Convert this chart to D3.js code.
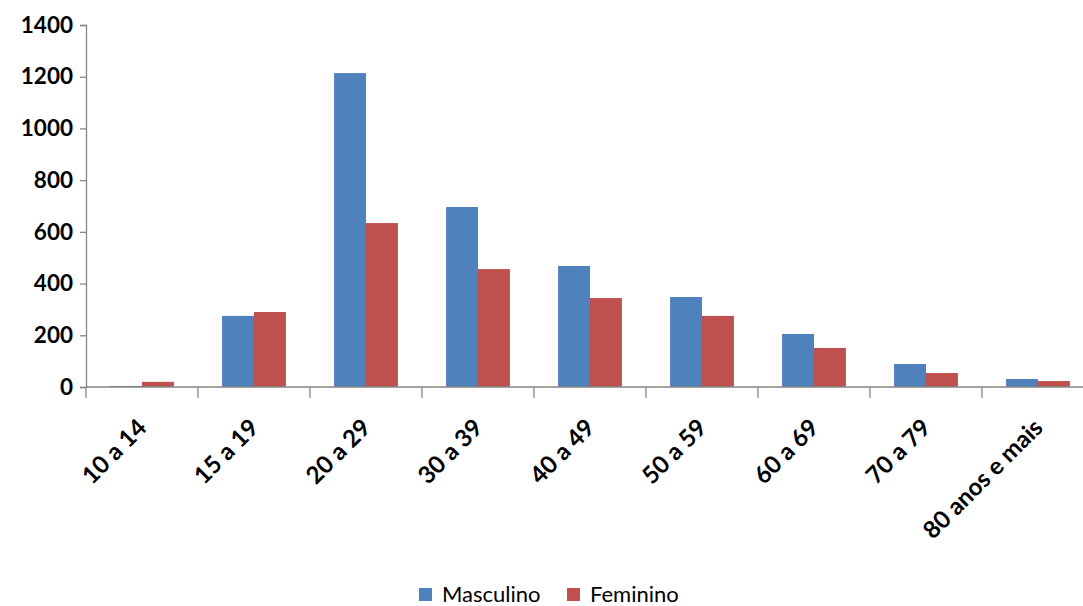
<!DOCTYPE html>
<html lang="pt">
<head>
<meta charset="UTF-8" />
<title>Masculino x Feminino por faixa etária</title>
<script src="https://cdn.jsdelivr.net/npm/d3@7"></script>
<style>
  body { margin: 0; background: #fff; }
  svg text { font-family: Lato, "Open Sans", sans-serif; }
</style>
</head>
<body>
<script>
// faixas etarias
const faixas = ["10 a 14", "15 a 19", "20 a 29", "30 a 39", "40 a 49", "50 a 59", "60 a 69", "70 a 79", "80 anos e mais"];
const masculino = [4, 275, 1214, 696, 468, 348, 205, 89, 31];
const feminino = [20, 290, 634, 456, 344, 275, 151, 54, 23];
const yTicks = [0, 200, 400, 600, 800, 1000, 1200, 1400];
const series = ["Masculino", "Feminino"];
const cores = ["#4F81BD", "#C0504D"];

const W = 1083, H = 606;
var svg = d3.select("body").append("svg")
  .attr("width", W).attr("height", H);

var x = d3.scaleBand().domain(faixas).range([86, 1094]).paddingInner(0.43).paddingOuter(0.215);
var x1 = d3.scaleBand().domain(series).range([0, x.bandwidth()]);
var y = d3.scaleLinear().domain([0, 1400]).range([387, 25]);

// y axis
var yAxis = svg.append("g").attr("transform", "translate(86,0)")
  .call(d3.axisLeft(y).tickValues(yTicks).tickFormat(d3.format("d")).tickSize(6).tickPadding(7));
yAxis.select(".domain").attr("stroke", "#868686").attr("stroke-width", 1.3);
yAxis.selectAll(".tick line").attr("stroke", "#868686").attr("stroke-width", 1.3);
yAxis.selectAll("text").attr("fill", "#000").style("font-size", "22.5px").style("font-weight", "bold");

// bars
var grupos = svg.append("g").selectAll("g").data(faixas).join("g")
  .attr("transform", d => "translate(" + x(d) + ",0)");
grupos.selectAll("rect")
  .data((d, i) => [masculino[i], feminino[i]].map((v, k) => ({s: series[k], v: v, c: cores[k]})))
  .join("rect")
  .attr("x", d => x1(d.s))
  .attr("width", x1.bandwidth())
  .attr("y", d => y(d.v))
  .attr("height", d => y(0) - y(d.v))
  .attr("fill", d => d.c);

// x axis line and category ticks
var step = x.step();
var xg = svg.append("g");
xg.append("line").attr("x1", 86).attr("x2", 1094).attr("y1", y(0)).attr("y2", y(0))
  .attr("stroke", "#868686").attr("stroke-width", 1.3);
xg.selectAll(".cat").data(d3.range(faixas.length + 1)).join("line")
  .attr("x1", i => 86 + i * step).attr("x2", i => 86 + i * step)
  .attr("y1", y(0)).attr("y2", y(0) + 11)
  .attr("stroke", "#868686").attr("stroke-width", 1.3);

xg.selectAll(".lbl").data(faixas).join("text")
  .attr("transform", d => {
    var cx = x(d) + x.bandwidth() / 2 - 6;
    return "translate(" + cx + "," + (y(0) + 30) + ") rotate(-45)";
  })
  .attr("text-anchor", "end")
  .attr("dy", "0.72em")
  .style("font-size", "24px").style("font-weight", "bold")
  .text(d => d);

// legenda
var leg = svg.append("g");
var lx = [419, 567];
series.forEach((s, i) => {
  leg.append("rect").attr("x", lx[i]).attr("y", 588).attr("width", 13).attr("height", 13).attr("fill", cores[i]);
  leg.append("text").attr("x", lx[i] + 23).attr("y", 602)
    .style("font-size", "22px").attr("fill", "#000").text(s);
});
</script>
</body>
</html>
